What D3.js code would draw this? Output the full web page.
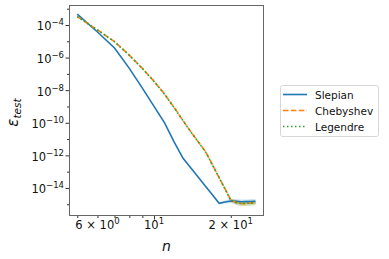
<!DOCTYPE html>
<html>
<head>
<meta charset="utf-8">
<script src="https://cdn.jsdelivr.net/npm/d3@7"></script>
<style>
  html, body { margin: 0; padding: 0; background: #fff; }
  svg { display: block; font-family: "DejaVu Sans", sans-serif; }
</style>
</head>
<body>
<div class="chart"></div>
<script>
// number of basis functions
const nValues = [5, 6, 7, 8, 9, 10, 11, 12, 13, 14, 15, 16, 17, 18, 19, 20, 21, 22, 23, 24, 25];

// log10 of test error
const slepianLog = [-3.33, -4.43, -5.41, -6.66, -7.87, -8.99, -10.01, -11.18, -12.18, -12.80, -13.39,
  -13.94, -14.45, -14.94, -14.86, -14.80, -14.82, -14.85, -14.84, -14.83, -14.82];
const chebyshevLog = [-3.49, -4.30, -5.02, -5.85, -6.66, -7.45, -8.24, -9.07, -9.87, -10.59, -11.22,
  -11.82, -12.62, -13.36, -14.06, -14.74, -14.89, -14.95, -14.95, -14.92, -14.92];
const legendreLog = [-3.48, -4.30, -5.03, -5.86, -6.67, -7.46, -8.25, -9.08, -9.88, -10.60, -11.23,
  -11.83, -12.63, -13.37, -14.07, -14.76, -14.90, -14.96, -14.94, -14.93, -14.91];
// half width of the shaded spread, in decades
const slepianSpread = [0.01, 0.01, 0.01, 0.01, 0.01, 0.01, 0.01, 0.01, 0.02, 0.02, 0.02,
  0.03, 0.04, 0.06, 0.10, 0.14, 0.15, 0.15, 0.14, 0.15, 0.14];
const chebyshevSpread = [0.01, 0.01, 0.01, 0.01, 0.01, 0.01, 0.01, 0.01, 0.01, 0.02, 0.02,
  0.02, 0.03, 0.04, 0.06, 0.10, 0.14, 0.15, 0.15, 0.14, 0.14];

const seriesNames = ['Slepian', 'Chebyshev', 'Legendre'];
const xMinor = [5, 6, 7, 8, 9, 20];
const xMajor = [10];
const yMajorExp = [-14, -12, -10, -8, -6, -4];
const yMinorExp = [-15, -13, -11, -9, -7, -5, -3];

const W = 389, H = 259;
const svg = d3.select('.chart').append('svg').attr('width', W).attr('height', H);

const pl = 69, pr = 264, pt = 5, pb = 216;
const x = d3.scaleLog().domain([4.64, 27.0]).range([pl, pr]);
const y = d3.scaleLog().domain([Math.pow(10, -15.72), Math.pow(10, -2.773)]).range([pb, pt]);

const colors = ['#1f77b4', '#ff7f0e', '#2ca02c'];
const dashes = [null, '5.5,2.4', '1.5,2.5'];

const rows = s => nValues.map((n, i) => ({ n, v: Math.pow(10, s[i]) }));
const band = (s, sp) => nValues.map((n, i) => ({ n, lo: Math.pow(10, s[i] - sp[i]), hi: Math.pow(10, s[i] + sp[i]) }));

const area = d3.area().x(d => x(d.n)).y0(d => y(d.lo)).y1(d => y(d.hi));
const line = d3.line().x(d => x(d.n)).y(d => y(d.v));

const plot = svg.append('g');
plot.append('path').datum(band(slepianLog, slepianSpread)).attr('d', area)
  .attr('fill', colors[0]).attr('opacity', 0.2);
plot.append('path').datum(band(chebyshevLog, chebyshevSpread)).attr('d', area)
  .attr('fill', colors[1]).attr('opacity', 0.2);
plot.append('path').datum(band(legendreLog, chebyshevSpread)).attr('d', area)
  .attr('fill', colors[2]).attr('opacity', 0.2);

[slepianLog, chebyshevLog, legendreLog].forEach((s, i) => {
  plot.append('path').datum(rows(s)).attr('d', line)
    .attr('fill', 'none').attr('stroke', colors[i]).attr('stroke-width', 1.6)
    .attr('stroke-dasharray', dashes[i]);
});

// frame
svg.append('rect').attr('x', pl + 0.5).attr('y', pt + 0.5)
  .attr('width', pr - pl - 1).attr('height', pb - pt - 1)
  .attr('fill', 'none').attr('stroke', '#666').attr('stroke-width', 1);

// x axis
const xAxis = svg.append('g').attr('transform', `translate(0,${pb})`);
xAxis.call(d3.axisBottom(x).tickValues(xMajor).tickSize(3.5).tickFormat(''));
xAxis.call(g => g.select('.domain').remove());
const xAxisMinor = svg.append('g').attr('transform', `translate(0,${pb})`);
xAxisMinor.call(d3.axisBottom(x).tickValues(xMinor).tickSize(2).tickFormat(''));
xAxisMinor.call(g => g.select('.domain').remove());

const xLabels = [
  { v: 6, base: '6 × 10', sup: '0' },
  { v: 10, base: '10', sup: '1' },
  { v: 20, base: '2 × 10', sup: '1' }
];
xLabels.forEach(t => {
  const tx = svg.append('text').attr('x', x(t.v)).attr('y', pb + 13)
    .attr('text-anchor', 'middle').attr('font-size', 11.5).attr('fill', '#111');
  tx.append('tspan').text(t.base);
  tx.append('tspan').attr('dy', -5).attr('font-size', 8.5).text(t.sup);
});

// y axis
const yAxis = svg.append('g').attr('transform', `translate(${pl},0)`);
yAxis.call(d3.axisLeft(y).tickValues(yMajorExp.map(e => Math.pow(10, e))).tickSize(3.5).tickFormat(''));
yAxis.call(g => g.select('.domain').remove());
const yAxisMinor = svg.append('g').attr('transform', `translate(${pl},0)`);
yAxisMinor.call(d3.axisLeft(y).tickValues(yMinorExp.map(e => Math.pow(10, e)).filter(v => y(v) > pt && y(v) < pb)).tickSize(2).tickFormat(''));
yAxisMinor.call(g => g.select('.domain').remove());
svg.selectAll('.tick line').attr('stroke', '#333');

yMajorExp.forEach(e => {
  const tx = svg.append('text').attr('x', pl - 5).attr('y', y(Math.pow(10, e)) + 5.5)
    .attr('text-anchor', 'end').attr('font-size', 11.5).attr('fill', '#111');
  tx.append('tspan').text('10');
  tx.append('tspan').attr('dy', -5).attr('font-size', 8.5).text('−' + Math.abs(e));
});

// axis titles
svg.append('text').attr('x', (pl + pr) / 2).attr('y', 251)
  .attr('text-anchor', 'middle').attr('font-size', 14).attr('font-style', 'italic')
  .attr('fill', '#111').text('n');

const yt = svg.append('text').attr('transform', `translate(18,${(pt + pb) / 2 + 2}) rotate(-90)`)
  .attr('text-anchor', 'middle').attr('font-size', 15).attr('font-style', 'italic').attr('fill', '#111');
yt.append('tspan').text('ε');
yt.append('tspan').attr('dy', 3).attr('font-size', 10.5).text('test');

// legend
const lg = svg.append('g').attr('transform', 'translate(280,85)');
lg.append('rect').attr('x', 0.5).attr('y', 0.5).attr('width', 98).attr('height', 51).attr('rx', 2)
  .attr('fill', '#fff').attr('fill-opacity', 0.8).attr('stroke', '#d6d6d6');
seriesNames.forEach((name, i) => {
  const ly = 9.5 + i * 16;
  lg.append('line').attr('x1', 3).attr('x2', 27).attr('y1', ly).attr('y2', ly)
    .attr('stroke', colors[i]).attr('stroke-width', 1.6).attr('stroke-dasharray', dashes[i]);
  lg.append('text').attr('x', 35).attr('y', ly + 4).attr('font-size', 10.5).attr('fill', '#111').text(name);
});
</script>
</body>
</html>
